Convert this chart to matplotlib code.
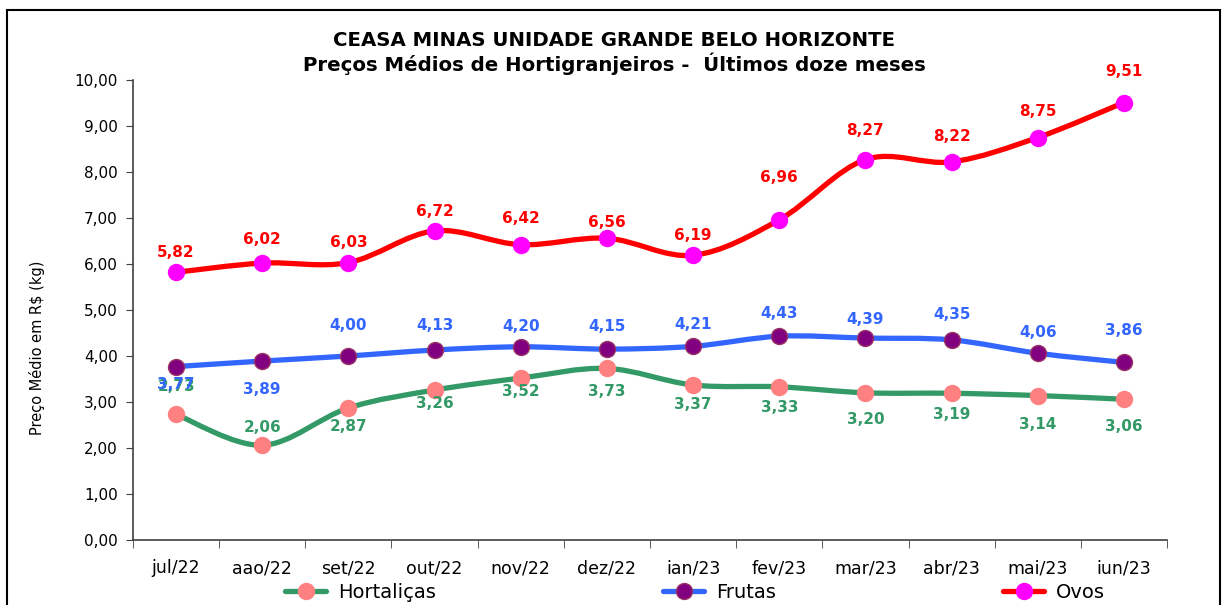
import matplotlib
matplotlib.use("Agg")
import matplotlib.pyplot as plt
import numpy as np
from matplotlib.path import Path
from matplotlib.patches import PathPatch, Rectangle
from matplotlib.lines import Line2D

months = ["jul/22", "aao/22", "set/22", "out/22", "nov/22", "dez/22",
          "ian/23", "fev/23", "mar/23", "abr/23", "mai/23", "iun/23"]
hortalicas = [2.73, 2.06, 2.87, 3.26, 3.52, 3.73, 3.37, 3.33, 3.20, 3.19, 3.14, 3.06]
frutas = [3.77, 3.89, 4.00, 4.13, 4.20, 4.15, 4.21, 4.43, 4.39, 4.35, 4.06, 3.86]
ovos = [5.82, 6.02, 6.03, 6.72, 6.42, 6.56, 6.19, 6.96, 8.27, 8.22, 8.75, 9.51]

# label offsets in pixels (positive = above the point)
off_hort = [28, 18, -19, -13, -13, -23, -20, -21, -27, -21, -29, -27]
off_frut = [-18, -28, 30, 25, 20, 23, 22, 23, 19, 25, 21, 32]
off_ovos = [20, 24, 20, 19, 26, 16, 20, 42, 29, 25, 26, 31]

series = [
    ("Hortaliças", hortalicas, "#339966", "#FF8080", "#FF8080", "#339966", off_hort),
    ("Frutas", frutas, "#3366FF", "#800080", "#993366", "#3366FF", off_frut),
    ("Ovos", ovos, "#FF0000", "#FF00FF", "#FF00FF", "#FF0000", off_ovos),
]


def smooth_path(x, y):
    # excel-like smoothed line: bezier segments through every point
    p = np.column_stack([x, y]).astype(float)
    pad = np.vstack([p[0], p, p[-1]])
    verts = [p[0]]
    codes = [Path.MOVETO]
    for i in range(len(p) - 1):
        c1 = pad[i + 1] + (pad[i + 2] - pad[i]) / 6
        c2 = pad[i + 2] - (pad[i + 3] - pad[i + 1]) / 6
        verts += [c1, c2, pad[i + 2]]
        codes += [Path.CURVE4] * 3
    return Path(verts, codes)


fig = plt.figure(figsize=(12.22, 6.05), dpi=100)
ax = fig.add_axes([133 / 1222, 1 - 540 / 605, (1167 - 133) / 1222, (540 - 80) / 605])

x = np.arange(len(months))
handles = []
for name, vals, lc, mc, mec, tc, offs in series:
    ax.add_patch(PathPatch(smooth_path(x, vals), facecolor="none", edgecolor=lc,
                           lw=3.8, capstyle="round", zorder=2))
    ax.plot(x, vals, ls="none", marker="o", ms=11.5, mfc=mc, mec=mec, mew=1, zorder=3)
    for xi, v, o in zip(x, vals, offs):
        ax.annotate(f"{v:.2f}".replace(".", ","), (xi, v), xytext=(0, o),
                    textcoords="offset pixels", ha="center", va="center",
                    color=tc, fontsize=11, fontweight="bold", zorder=4)
    handles.append(Line2D([], [], color=lc, lw=3.8, marker="o", ms=11.5,
                          mfc=mc, mec=mec, solid_capstyle="round", label=name))

ax.set_xlim(-0.5, len(months) - 0.5)
ax.set_ylim(0, 10)
ax.set_yticks(np.arange(0, 11, 1))
ax.set_yticklabels([f"{v:.2f}".replace(".", ",") for v in np.arange(0, 11, 1)])
ax.set_xticks(x)
ax.set_xticklabels(months)
ax.set_xticks(np.arange(-0.5, len(months), 1), minor=True)
ax.tick_params(axis="x", which="major", length=0, pad=14, labelsize=12.5)
ax.tick_params(axis="x", which="minor", length=6, direction="out", color="#404040")
ax.tick_params(axis="y", length=5, direction="out", labelsize=11, color="#404040", pad=6)
for s in ["top", "right"]:
    ax.spines[s].set_visible(False)
for s in ["left", "bottom"]:
    ax.spines[s].set_color("#404040")
    ax.spines[s].set_linewidth(1.2)

fig.text(37 / 1222, 1 - 348 / 605, "Preço Médio em R$ (kg)", rotation=90,
         ha="center", va="center", fontsize=10.5)

fig.text(614 / 1222, 1 - 40 / 605, "CEASA MINAS UNIDADE GRANDE BELO HORIZONTE",
         ha="center", va="center", fontsize=14.2, fontweight="bold")
fig.text(614 / 1222, 1 - 64 / 605, "Preços Médios de Hortigranjeiros -  Últimos doze meses",
         ha="center", va="center", fontsize=14.2, fontweight="bold")

fig.legend(handles=handles, loc="center", bbox_to_anchor=(695 / 1222, 1 - 592 / 605),
           ncol=3, frameon=False, fontsize=14, handlelength=2.1, handletextpad=0.6,
           columnspacing=11.7, borderpad=0)

fig.add_artist(Rectangle((7 / 1222, -0.05), (1220 - 7) / 1222, 1.05 - 10 / 605,
                         transform=fig.transFigure, fill=False, ec="black", lw=1.5))

fig.savefig("out.png", dpi=100)
